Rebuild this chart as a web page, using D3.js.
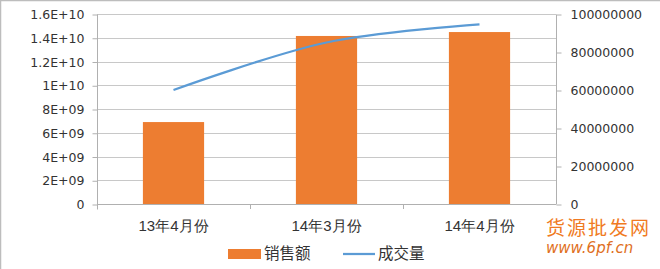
<!DOCTYPE html>
<html>
<head>
<meta charset="utf-8">
<script src="https://cdn.jsdelivr.net/npm/d3@7"></script>
<style>
  body { margin: 0; background: #fff; }
  svg { display: block; font-family: "Noto Sans CJK SC", "DejaVu Sans", sans-serif; }
</style>
</head>
<body>
<svg id="chart" width="660" height="269"></svg>
<script>
// data
const categories = ["13年4月份", "14年3月份", "14年4月份"];
const sales = [6.9e9, 1.415e10, 1.448e10];      // 销售额 (bars, left axis)
const volume = [60000000, 85000000, 94500000];   // 成交量 (line, right axis)
const leftTicks = [0, 2e9, 4e9, 6e9, 8e9, 1e10, 1.2e10, 1.4e10, 1.6e10];
const leftTickLabels = ["0", "2E+09", "4E+09", "6E+09", "8E+09", "1E+10", "1.2E+10", "1.4E+10", "1.6E+10"];
const rightTicks = [0, 20000000, 40000000, 60000000, 80000000, 100000000];

const width = 660, height = 269;
const margin = { top: 14, right: 104, bottom: 65, left: 97 };

const svg = d3.select("#chart");

//chart border (top + left visible in picture)
svg.append("path")
  .attr("d", `M0.5,${height} V0.5 H${width}`)
  .attr("fill", "none")
  .attr("stroke", "#bdbdbd")
  .attr("stroke-width", 1.5);

const x = d3.scaleBand()
  .domain(categories)
  .range([margin.left, width - margin.right]);

const yL = d3.scaleLinear().domain([0, 1.6e10]).range([height - margin.bottom, margin.top]);
const yR = d3.scaleLinear().domain([0, 100000000]).range([height - margin.bottom, margin.top]);

const x0 = margin.left, x1 = width - margin.right;
const yBase = height - margin.bottom;

//gridlines
svg.append("g")
  .selectAll("line")
  .data(leftTicks.slice(1))
  .join("line")
  .attr("x1", x0).attr("x2", x1)
  .attr("y1", d => Math.round(yL(d)) + 0.5)
  .attr("y2", d => Math.round(yL(d)) + 0.5)
  .attr("stroke", "#c8c8c8");

//left axis
const leftAxis = svg.append("g")
  .attr("transform", `translate(${x0 + 0.5},0.5)`)
  .call(d3.axisLeft(yL).tickValues(leftTicks).tickFormat((d, i) => leftTickLabels[i]).tickSize(5).tickPadding(8));
leftAxis.select(".domain").attr("stroke", "#b0b0b0").attr("d", `M0,${margin.top}V${yBase + 5}`);
leftAxis.selectAll(".tick line").attr("stroke", "#b0b0b0");
leftAxis.selectAll("text").attr("fill", "#333").style("font-family", "'DejaVu Sans', sans-serif").style("font-size", "12.5px");

//right axis
const rightAxis = svg.append("g")
  .attr("transform", `translate(${x1 + 0.5},0.5)`)
  .call(d3.axisRight(yR).tickValues(rightTicks).tickFormat(d3.format("d")).tickSize(5).tickPadding(9));
rightAxis.select(".domain").attr("stroke", "#b0b0b0").attr("d", `M0,${margin.top}V${yBase}`);
rightAxis.selectAll(".tick line").attr("stroke", "#b0b0b0");
rightAxis.selectAll("text").attr("fill", "#333").style("font-family", "'DejaVu Sans', sans-serif").style("font-size", "12.5px");

//bottom axis
const bottomAxis = svg.append("g")
  .attr("transform", `translate(0,${yBase + 0.5})`)
  .call(d3.axisBottom(x).tickSize(0).tickPadding(16));
bottomAxis.select(".domain").attr("stroke", "#b0b0b0").attr("d", `M${x0},0H${x1}`);
bottomAxis.selectAll("text").attr("fill", "#333").style("font-size", "15px");
//band boundary ticks
svg.append("g")
  .selectAll("line")
  .data(categories.slice(1))
  .join("line")
  .attr("x1", d => Math.round(x(d)) + 0.5).attr("x2", d => Math.round(x(d)) + 0.5)
  .attr("y1", yBase).attr("y2", yBase + 5)
  .attr("stroke", "#b0b0b0");

//bars
const barW = x.bandwidth() * 0.4;
svg.append("g")
  .selectAll("rect")
  .data(sales)
  .join("rect")
  .attr("x", (d, i) => x(categories[i]) + x.bandwidth() / 2 - barW / 2)
  .attr("y", d => yL(d))
  .attr("width", barW)
  .attr("height", d => yBase - yL(d))
  .attr("fill", "#ed7d31");

//line
const line = d3.line()
  .x((d, i) => x(categories[i]) + x.bandwidth() / 2)
  .y(d => yR(d))
  .curve(d3.curveCatmullRom.alpha(0.5));
svg.append("path")
  .datum(volume)
  .attr("d", line)
  .attr("fill", "none")
  .attr("stroke", "#5b9bd5")
  .attr("stroke-width", 2.25);

//legend
const legend = svg.append("g").attr("transform", "translate(0,254)");
legend.append("rect").attr("x", 228).attr("y", -5).attr("width", 33).attr("height", 10).attr("fill", "#ed7d31");
legend.append("text").attr("x", 264).attr("y", 0).attr("dy", "0.35em").attr("fill", "#333").style("font-size", "15.5px").text("销售额");
legend.append("line").attr("x1", 343).attr("x2", 375).attr("y1", 0).attr("y2", 0).attr("stroke", "#5b9bd5").attr("stroke-width", 2.25);
legend.append("text").attr("x", 378).attr("y", 0).attr("dy", "0.35em").attr("fill", "#333").style("font-size", "15.5px").text("成交量");

//watermark
svg.append("text").attr("x", 546).attr("y", 235).attr("fill", "#f07a22")
  .style("font-size", "19px").style("letter-spacing", "2px").text("货源批发网");
svg.append("text").attr("x", 546).attr("y", 253).attr("fill", "#e0701e")
  .style("font-size", "15px").style("font-style", "italic").style("font-family", "'DejaVu Sans', sans-serif").text("www.6pf.cn");
</script>
</body>
</html>
